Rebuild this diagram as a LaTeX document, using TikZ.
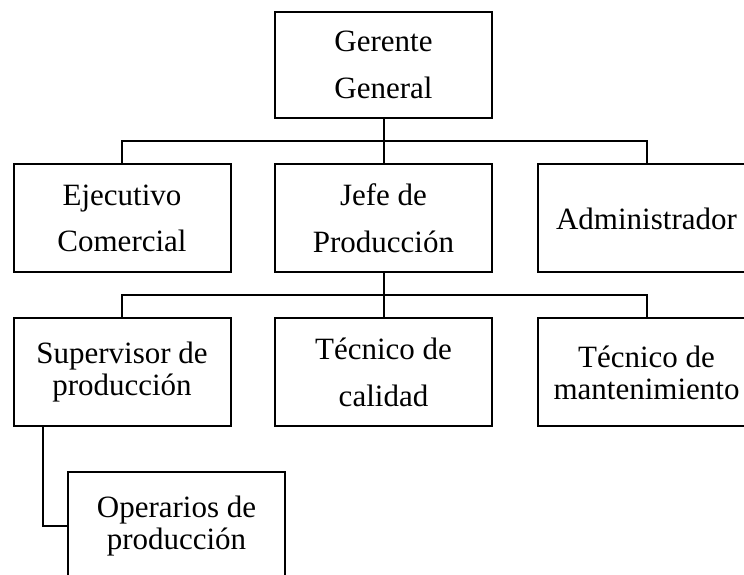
\documentclass[tikz,border=0pt]{standalone}
\usepackage{fontspec}
\setmainfont{Liberation Serif}
\usetikzlibrary{calc,positioning}
\definecolor{Ink}{HTML}{000000}
\definecolor{Paper}{HTML}{FFFFFF}
\tikzset{
  puesto/.style={
    draw=Ink, line width=1.5pt, fill=Paper, text=Ink,
    minimum width=162.75pt, minimum height=81pt, align=center,
    inner sep=2pt, font=\fontsize{23.25pt}{35pt}\selectfont
  },
  puestojunto/.style={
    puesto, font=\fontsize{23.25pt}{24pt}\selectfont
  },
  linea/.style={line width=1.5pt, draw=Ink}
}

\begin{document}
\begin{tikzpicture}[x=0.75pt,y=0.75pt]
    \useasboundingbox (0,0) rectangle (744,575);
    \clip (0,0) rectangle (744,575);
    % primer nivel
    \node[puesto, minimum height=79.5pt] (gerente) at (383.5,510) {Gerente\\General};
    % segundo nivel
    \node[puesto] (ejecutivo) at (122,356.5) {Ejecutivo\\Comercial};
    \node[puesto] (jefe) at (383.5,356.5) {Jefe de\\Producción};
    \node[puesto] (admin) at (646.5,356.5) {Administrador};
    % tercer nivel
    \node[puestojunto] (supervisor) at (122,202.5) {Supervisor de\\producción};
    \node[puesto] (calidad) at (383.5,202.5) {Técnico de\\calidad};
    \node[puestojunto] (mantenimiento) at (646.5,202.5) {Técnico de\\mantenimiento};
    \node[puestojunto] (operarios) at (176.5,48.5) {Operarios de\\producción};
    % conectores
    \coordinate (bus1) at ($(gerente.south)!0.5!(jefe.north)$);
    \coordinate (bus2) at ($(jefe.south)!0.5!(calidad.north)$);
    \draw[linea] (gerente.south) -- (jefe.north);
    \draw[linea] (ejecutivo.north) |- (bus1) -| (admin.north);
    \draw[linea] (jefe.south) -- (calidad.north);
    \draw[linea] (supervisor.north) |- (bus2) -| (mantenimiento.north);
    \draw[linea] ([xshift=23]supervisor.south west) |- (operarios.west);
  \end{tikzpicture}
\end{document}
